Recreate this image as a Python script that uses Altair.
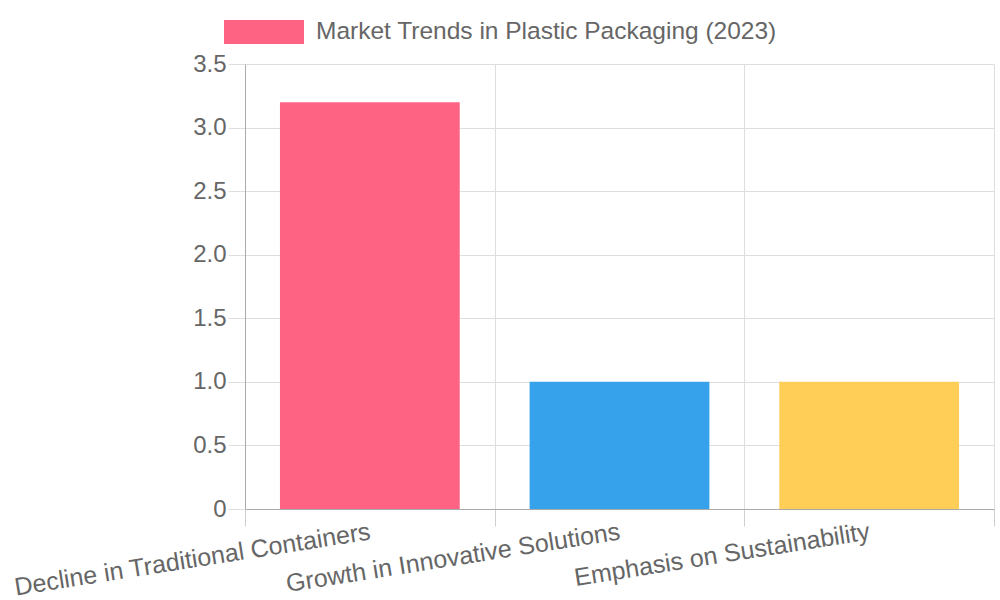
import altair as alt
import pandas as pd

# Bar chart data
categories = [
    "Decline in Traditional Containers",
    "Growth in Innovative Solutions",
    "Emphasis on Sustainability",
]
values = [3.2, 1.0, 1.0]
bar_colors = ["#FF6384", "#36A2EB", "#FFCE56"]
series_name = "Market Trends in Plastic Packaging (2023)"
y_ticks = [0, 0.5, 1.0, 1.5, 2.0, 2.5, 3.0, 3.5]

df = pd.DataFrame({"category": categories, "value": values})
legend_df = pd.DataFrame({"category": [categories[0]], "value": [0.0], "series": [series_name]})

FONT = "Liberation Sans"
TEXT = "#666666"

x_enc = alt.X(
    "category:N",
    sort=categories,
    scale=alt.Scale(paddingInner=0, paddingOuter=0),
    axis=alt.Axis(
        title=None,
        tickBand="extent",
        labelAngle=-9,
        labelAlign="right",
        labelBaseline="top",
        labelPadding=-7,
        labelOffset=-2,
        tickSize=17,
        tickColor="#d0d0d0",
        gridColor="#dedede",
        grid=True,
        domainColor="#aaaaaa",
        labelFontSize=25,
        labelColor=TEXT,
        labelFont=FONT,
        labelLimit=0,
        labelOverlap=False,
    ),
)

y_enc = alt.Y(
    "value:Q",
    scale=alt.Scale(domain=[0, 3.5], nice=False),
    axis=alt.Axis(
        title=None,
        values=y_ticks,
        labelExpr="datum.value == 0 ? '0' : format(datum.value, '.1f')",
        tickSize=17,
        tickColor="#dedede",
        gridColor="#dedede",
        domainColor="#aaaaaa",
        labelPadding=2,
        labelFontSize=24,
        labelColor=TEXT,
        labelFont=FONT,
    ),
)

bars = (
    alt.Chart(df)
    .mark_bar(width=alt.RelativeBandSize(0.72))
    .encode(
        x=x_enc,
        y=y_enc,
        color=alt.Color(
            "category:N",
            sort=categories,
            scale=alt.Scale(domain=categories, range=bar_colors),
            legend=None,
        ),
    )
)

# Single-entry legend for the dataset label
legend_layer = (
    alt.Chart(legend_df)
    .mark_bar(width=alt.RelativeBandSize(0.72), strokeWidth=0)
    .encode(
        x=alt.X("category:N", sort=categories),
        y=alt.Y("value:Q"),
        color=alt.Color(
            "series:N",
            scale=alt.Scale(domain=[series_name], range=[bar_colors[0]]),
            legend=alt.Legend(
                title=None,
                orient="none",
                legendX=-21,
                legendY=-72,
                direction="horizontal",
                symbolType="M-1,-0.3 H1 V0.3 H-1 Z",
                symbolSize=6400,
                symbolStrokeWidth=0,
                labelFontSize=24.5,
                labelFont=FONT,
                labelColor=TEXT,
                labelOffset=12,
                labelLimit=0,
                padding=0,
            ),
        ),
    )
)

chart = (
    alt.layer(bars, legend_layer)
    .resolve_scale(color="independent")
    .properties(
        width=749,
        height=445,
        autosize=alt.AutoSizeParams(type="none"),
        padding={"left": 245, "top": 64, "right": 6, "bottom": 91},
        background="white",
    )
    .configure_view(stroke=None)
)

chart.save("out.html", embed_options={"renderer": "svg", "actions": False})
